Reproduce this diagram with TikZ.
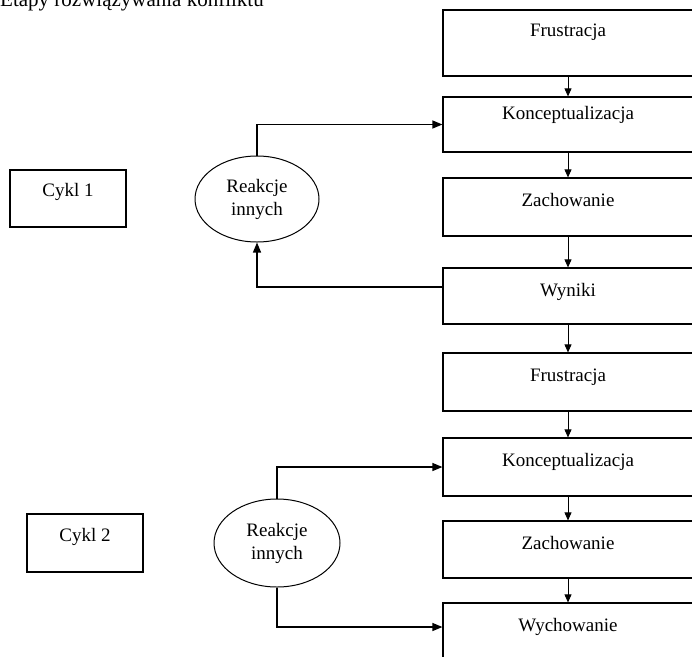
\documentclass[tikz,border=0pt]{standalone}
\usepackage{fontspec}
\setmainfont{Liberation Serif}
\usetikzlibrary{shapes.geometric, arrows.meta}

\begin{document}
\begin{tikzpicture}[
    x=1pt, y=-1pt,
    stagebox/.style={draw, rectangle, line width=1.2pt, minimum width=250pt, inner sep=0pt, text height=28pt, text depth=30pt, font=\fontsize{19}{23}\selectfont},
    cyclebox/.style={draw, rectangle, line width=1.2pt, minimum width=116pt, inner sep=0pt, text height=27pt, text depth=31pt, font=\fontsize{19}{23}\selectfont},
    reaction/.style={draw, ellipse, line width=1pt, minimum width=124pt, minimum height=86pt, inner sep=0pt, align=center, font=\fontsize{19}{23}\selectfont},
    flow/.style={-{Triangle[length=8pt, width=7pt]}, line width=0.8pt},
    feedback/.style={-{Triangle[length=10pt, width=8pt]}, line width=1.2pt}
]
    \useasboundingbox (0,0) rectangle (692,656);

    % ================= TITLE =================
    \node[anchor=base west, inner sep=0pt, font=\fontsize{21}{25}\selectfont] (title) at (0, 6) {Etapy rozwiązywania konfliktu};

    % ================= CYCLE 1 =================
    \node[stagebox, text height=26pt, text depth=40pt] (F1) at (568, 43) {Frustracja};
    \node[stagebox, text height=22pt, text depth=33pt] (K1) at (568, 124.5) {Konceptualizacja};
    \node[stagebox] (Z1) at (568, 207) {Zachowanie};
    \node[stagebox, text depth=28pt] (W1) at (568, 296) {Wyniki};

    \node[cyclebox, text height=26pt] (C1) at (68, 198.5) {Cykl 1};
    \node[reaction, minimum width=124pt] (R1) at (257, 199) {Reakcje\\innych};

    % ================= CYCLE 2 =================
    \node[stagebox] (F2) at (568, 382) {Frustracja};
    \node[stagebox] (K2) at (568, 467) {Konceptualizacja};
    \node[stagebox, text depth=29pt] (Z2) at (568, 549.5) {Zachowanie};
    \node[stagebox, text depth=34pt] (V2) at (568, 634) {Wychowanie};

    \node[cyclebox] (C2) at (85, 543) {Cykl 2};
    \node[reaction, minimum width=126pt, minimum height=88pt] (R2) at (277, 543) {Reakcje\\innych};

    % ================= CONNECTIONS =================
    \draw[flow] (F1) -- (K1);
    \draw[flow] (K1) -- (Z1);
    \draw[flow] (Z1) -- (W1);
    \draw[flow] (W1) -- (F2);
    \draw[flow] (F2) -- (K2);
    \draw[flow] (K2) -- (Z2);
    \draw[flow] (Z2) -- (V2);

    % reactions of others
    \draw[feedback] (R1.north) |- (K1.west);
    \draw[feedback] ([yshift=9pt]W1.west) -| (R1.south);
    \draw[feedback] (R2.north) |- (K2.west);
    \draw[feedback] (R2.south) |- ([yshift=7pt]V2.west);

\end{tikzpicture}
\end{document}
